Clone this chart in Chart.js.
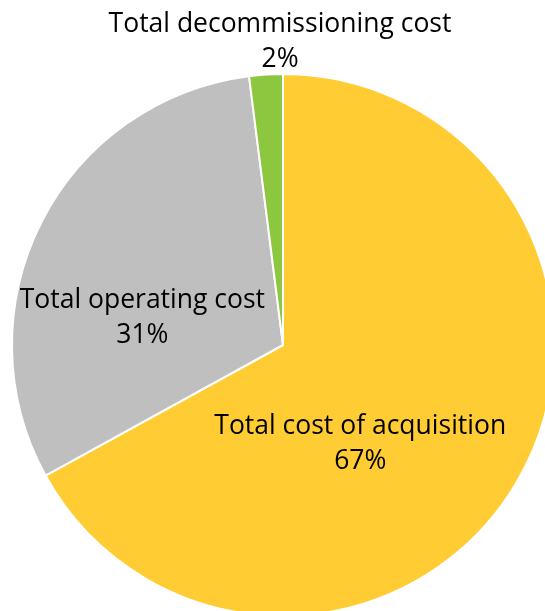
<!DOCTYPE html>
<html>
<head>
<meta charset="utf-8">
<script src="https://cdn.jsdelivr.net/npm/chart.js@4"></script>
<style>
    html, body { margin: 0; padding: 0; background: #fff; overflow: hidden; }
    #wrap { position: absolute; left: 0; top: 0; width: 566px; height: 630px; }
</style>
</head>
<body>
<div id="wrap"><canvas id="costChart"></canvas></div>
<script>
// Lifecycle cost split
const categories = ['Total cost of acquisition', 'Total operating cost', 'Total decommissioning cost'];
const shares = [67, 31, 2];
const sliceColors = ['#FFCD33', '#BFBFBF', '#8DC63F'];

// label anchor per slice, in units of the pie radius from its centre
const labelAnchors = [
    { dx: 0.285, dy: 0.3 },
    { dx: -0.519, dy: -0.163 },
    { dx: -0.011, dy: -1.183 }
];

const sliceLabels = {
    id: 'sliceLabels',
    afterDatasetsDraw(chart) {
        const ctx = chart.ctx;
        const arcs = chart.getDatasetMeta(0).data;
        if (!arcs.length) return;
        const cx = arcs[0].x, cy = arcs[0].y, r = arcs[0].outerRadius;
        ctx.save();
        ctx.fillStyle = '#000';
        ctx.font = '26.5px "Open Sans", sans-serif';
        ctx.textAlign = 'center';
        ctx.textBaseline = 'middle';
        categories.forEach((name, i) => {
            const a = labelAnchors[i];
            const x = cx + a.dx * r;
            const y = cy + a.dy * r;
            ctx.fillText(name, x, y);
            ctx.fillText(shares[i] + '%', x, y + 35);
        });
        ctx.restore();
    }
};

document.addEventListener('DOMContentLoaded', function() {
    const ctx = document.getElementById('costChart').getContext('2d');
    new Chart(ctx, {
        type: 'pie',
        data: {
            labels: categories,
            datasets: [{
                data: shares,
                backgroundColor: sliceColors,
                borderColor: '#fff',
                borderWidth: 2
            }]
        },
        options: {
            responsive: true,
            maintainAspectRatio: false,
            animation: false,
            layout: { padding: { left: 11, top: 73, right: 11, bottom: 13 } },
            plugins: {
                legend: { display: false },
                tooltip: { enabled: false }
            }
        },
        plugins: [sliceLabels]
    });
});
</script>
</body>
</html>
